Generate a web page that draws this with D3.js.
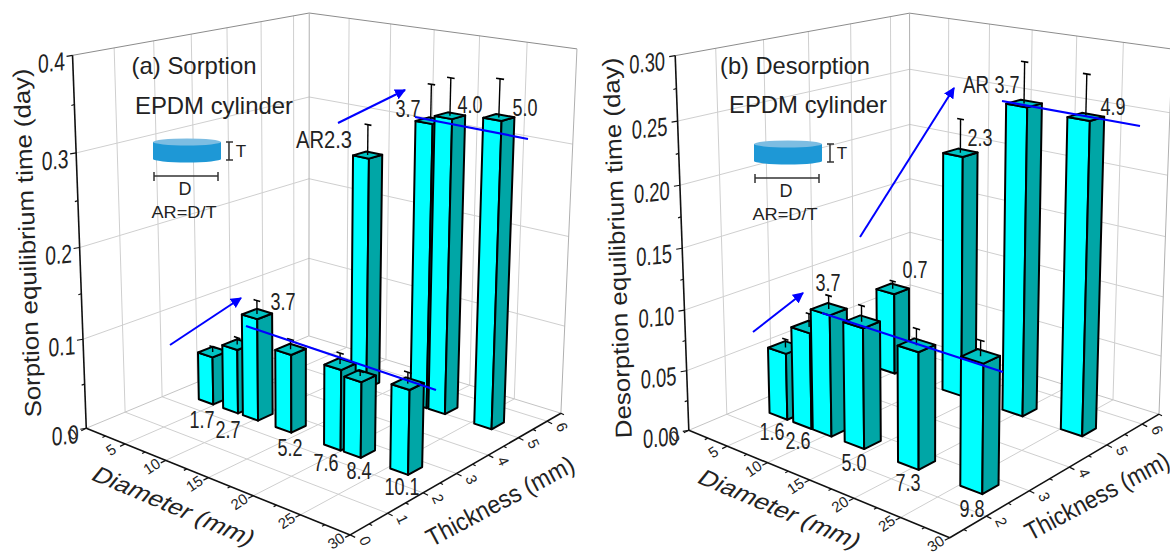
<!DOCTYPE html>
<html>
<head>
<meta charset="utf-8">
<script src="https://cdnjs.cloudflare.com/ajax/libs/d3/7.8.5/d3.min.js"></script>
<style>
  html, body { margin: 0; padding: 0; background: #fff; }
  text { font-family: "Liberation Sans", Arial, sans-serif; fill: #222; }
</style>
</head>
<body>
<div id="chart"></div>
<script>
// (a) sorption bars
var sorpAR = ["1.7", "2.7", "3.7", "5.2", "7.6", "8.4", "10.1", "2.3", "3.7", "4.0", "5.0"];
var sorpDiameter = [3.9, 7.0, 9.45, 13.4, 19.0, 21.2, 26.2, 12.2, 19.2, 21.25, 26.3];
var sorpThickness = [2.6, 2.6, 2.6, 2.6, 2.6, 2.6, 2.6, 5.2, 5.2, 5.2, 5.2];
var sorpTime = [0.055, 0.073, 0.115, 0.087, 0.088, 0.082, 0.09, 0.267, 0.318, 0.327, 0.334];
var sorpError = [0.006, 0.008, 0.015, 0.011, 0.012, 0.005, 0.012, 0.034, 0.039, 0.04, 0.04];

// (b) desorption bars
var desAR = ["1.6", "2.6", "3.7", "5.0", "7.3", "9.8", "0.7", "2.3", "3.7", "4.9"];
var desDiameter = [3.9, 6.95, 9.4, 13.3, 19.5, 26.3, 4.15, 12.5, 19.65, 26.2];
var desThickness = [2.67, 2.67, 2.67, 2.67, 2.67, 2.67, 5.2, 5.2, 5.2, 5.2];
var desTime = [0.056, 0.08, 0.1, 0.098, 0.093, 0.1, 0.072, 0.205, 0.255, 0.253];
var desError = [0.007, 0.011, 0.011, 0.013, 0.013, 0.012, 0.007, 0.028, 0.033, 0.033];

// tick labels
var diameterTicks = [0, 5, 10, 15, 20, 25, 30];
var sorpThicknessTicks = [0, 1, 2, 3, 4, 5, 6];
var desThicknessTicks = [2, 3, 4, 5, 6];
var sorpTimeTicks = [0, 0.1, 0.2, 0.3, 0.4];
var desTimeTicks = [0, 0.05, 0.1, 0.15, 0.2, 0.25, 0.3];

var panels = [
  {
    time: sorpTime, err: sorpError, dia: sorpDiameter, thick: sorpThickness, ar: sorpAR,
    tDomain: [0, 6.5], zDomain: [0, 0.4], tTicks: sorpThicknessTicks, zTicks: sorpTimeTicks,
    zFormat: d3.format(".1f"), zMinor: 0.05, barW: 1.85, barD: 0.42,
    corners: [
      [0, 0, 0, 86, 428], [1, 0, 0, 350, 535], [1, 1, 0, 561, 413], [0, 1, 0, 309, 336],
      [0, 0, 1, 72.6, 55], [1, 1, 1, 577, 49], [0, 1, 1, 309, 13], [0, 0, 0.5, 80, 248]
    ],
    zLabelOffset: [-21, 7], zLabelLen: 27,
    title: "(a) Sorption", titleAt: [194, 66], titleLen: 125, subAt: [214, 106], subLen: 158,
    inset: [153, 138], zTitle: "Sorption equilibrium time (day)", zTitleAt: [27, 243], zTitleLen: 349,
    dTitleAt: [174, 506], tTitleAt: [500, 501], tTitleLen: 164,
    labels: [[202, 420], [228, 430], [283, 302], [290, 448], [326, 463], [359, 471], [402, 487], [324, 140], [408, 109], [470, 105], [525, 108]],
    labelPrefix: { 7: "AR" },
    arrows: [[170, 345, 241, 298], [338, 123, 405, 90]],
    lines: [[246, 326, 436, 390], [415, 117, 528, 139]]
  },
  {
    time: desTime, err: desError, dia: desDiameter, thick: desThickness, ar: desAR,
    tDomain: [1.2, 6.5], zDomain: [0, 0.3], tTicks: desThicknessTicks, zTicks: desTimeTicks,
    zFormat: d3.format(".2f"), zMinor: 0.025, barW: 2.3, barD: 0.38,
    corners: [
      [0, 0, 0, 689, 430], [1, 0, 0, 950, 538], [1, 1, 0, 1159, 414], [0, 1, 0, 910, 337],
      [0, 0, 1, 675, 56], [1, 1, 1, 1172, 49], [0, 1, 1, 910, 13], [0, 0, 0.5, 682, 248]
    ],
    zLabelOffset: [-28, 7], zLabelLen: 36,
    title: "(b) Desorption", titleAt: [795, 66], titleLen: 150, subAt: [808, 105], subLen: 158,
    inset: [754, 140], zTitle: "Desorption equilibrium time (day)", zTitleAt: [617, 248], zTitleLen: 381,
    dTitleAt: [780, 509], tTitleAt: [1097, 496], tTitleLen: 160,
    labels: [[772, 432], [798, 441], [828, 283], [854, 463], [908, 483], [972, 509], [915, 270], [980, 138], [1007, 85], [1113, 107]],
    labelExtra: [["AR", 976, 85]],
    arrows: [[753, 332, 803, 293], [860, 237, 954, 88]],
    lines: [[822, 313, 1003, 372], [1002, 101, 1140, 126]]
  }
];

var svg = d3.select("#chart").append("svg").attr("width", 1170).attr("height", 552);

var defs = svg.append("defs");
defs.append("marker").attr("id", "head").attr("viewBox", "0 0 10 10")
  .attr("refX", 9).attr("refY", 5).attr("markerWidth", 5.5).attr("markerHeight", 5.5)
  .attr("orient", "auto").attr("markerUnits", "strokeWidth")
  .append("path").attr("d", "M0,0L10,5L0,10z").attr("fill", "#0000ff");

// least squares fit of a projective camera from known corners
function fitCamera(pts) {
  var n = 11, A = [], b = [];
  for (var i = 0; i < n; i++) { A.push(new Array(n).fill(0)); b.push(0); }
  function addRow(row, rhs) {
    for (var i = 0; i < n; i++) {
      for (var j = 0; j < n; j++) A[i][j] += row[i] * row[j];
      b[i] += row[i] * rhs;
    }
  }
  pts.forEach(function(p) {
    var u = p[0], v = p[1], w = p[2], X = p[3] / 1000, Y = p[4] / 1000;
    addRow([u, v, w, 1, 0, 0, 0, 0, -X * u, -X * v, -X * w], X);
    addRow([0, 0, 0, 0, u, v, w, 1, -Y * u, -Y * v, -Y * w], Y);
  });
  for (var c = 0; c < n; c++) {
    var piv = c;
    for (var r = c + 1; r < n; r++) if (Math.abs(A[r][c]) > Math.abs(A[piv][c])) piv = r;
    var t = A[c]; A[c] = A[piv]; A[piv] = t;
    t = b[c]; b[c] = b[piv]; b[piv] = t;
    for (r = 0; r < n; r++) {
      if (r === c) continue;
      var f = A[r][c] / A[c][c];
      for (var k = c; k < n; k++) A[r][k] -= f * A[c][k];
      b[r] -= f * b[c];
    }
  }
  var m = b.map(function(d, i) { return d / A[i][i]; });
  return function(u, v, w) {
    var h = m[8] * u + m[9] * v + m[10] * w + 1;
    return [1000 * (m[0] * u + m[1] * v + m[2] * w + m[3]) / h,
            1000 * (m[4] * u + m[5] * v + m[6] * w + m[7]) / h];
  };
}

function label(g, str, x, y, o) {
  o = o || {};
  var t = g.append("text")
    .attr("text-anchor", "middle").attr("dy", ".35em")
    .attr("font-size", o.size || 20)
    .attr("transform", "translate(" + x + "," + y + ") rotate(" + (o.rot || 0) + ") skewX(" + (o.skew || 0) + ")")
    .text(str);
  if (o.len) t.attr("textLength", o.len).attr("lengthAdjust", "spacingAndGlyphs");
  return t;
}

function drawPanel(p) {
  var g = svg.append("g");
  var cam = fitCamera(p.corners);

  var x = d3.scaleLinear().domain([0, 30]).range([0, 1]);
  var y = d3.scaleLinear().domain(p.tDomain).range([0, 1]);
  var z = d3.scaleLinear().domain(p.zDomain).range([0, 1]);
  var pt = function(d, t, v) { return cam(x(d), y(t), z(v)); };

  var tMin = p.tDomain[0], tMax = p.tDomain[1], zMax = p.zDomain[1];
  var line = d3.line();

  function seg(a, b, color, w) {
    g.append("path").attr("d", line([a, b])).attr("fill", "none")
      .attr("stroke", color).attr("stroke-width", w);
  }

  // grid on the floor and the two back walls
  var gridColor = "#cfcfcf";
  diameterTicks.slice(1, -1).forEach(function(d) {
    seg(pt(d, tMin, 0), pt(d, tMax, 0), gridColor, 1);
    seg(pt(d, tMax, 0), pt(d, tMax, zMax), gridColor, 1);
  });
  p.tTicks.filter(function(t) { return t > tMin; }).forEach(function(t) {
    seg(pt(0, t, 0), pt(30, t, 0), gridColor, 1);
    seg(pt(0, t, 0), pt(0, t, zMax), gridColor, 1);
  });
  p.zTicks.slice(1, -1).forEach(function(v) {
    seg(pt(0, tMin, v), pt(0, tMax, v), gridColor, 1);
    seg(pt(0, tMax, v), pt(30, tMax, v), gridColor, 1);
  });

  // wall outline
  var edge = "#8c8c8c";
  seg(pt(0, tMin, zMax), pt(0, tMax, zMax), edge, 1);
  seg(pt(0, tMax, zMax), pt(30, tMax, zMax), edge, 1);
  seg(pt(0, tMax, 0), pt(0, tMax, zMax), "#b0b0b0", 1);
  seg(pt(30, tMax, 0), pt(30, tMax, zMax), "#b0b0b0", 1);
  seg(pt(0, tMax, 0), pt(30, tMax, 0), "#c4c4c4", 1);
  seg(pt(0, tMin, 0), pt(0, tMax, 0), "#c4c4c4", 1);

  // axes
  seg(pt(0, tMin, 0), pt(0, tMin, zMax), "#111", 1.6);
  seg(pt(0, tMin, 0), pt(30, tMin, 0), "#111", 1.6);
  seg(pt(30, tMin, 0), pt(30, tMax, 0), "#111", 1.6);

  d3.range(0, zMax + 1e-6, p.zMinor).forEach(function(v, i) {
    var a = pt(0, tMin, v);
    seg(a, [a[0] - (i % 2 ? 3 : 6), a[1] + 1], "#111", 1.2);
  });
  d3.range(0, 30.01, 2.5).forEach(function(d, i) {
    var a = pt(d, tMin, 0);
    seg(a, [a[0] - (i % 2 ? 3 : 5), a[1] + (i % 2 ? 1.5 : 2.5)], "#111", 1.2);
  });
  d3.range(Math.ceil(tMin * 2) / 2, tMax + 0.01, 0.5).forEach(function(t) {
    var a = pt(30, t, 0), major = t % 1 === 0;
    seg(a, [a[0] + (major ? 5 : 3), a[1] + (major ? 2.5 : 1.5)], "#111", 1.2);
  });

  // tick labels
  p.zTicks.forEach(function(v) {
    var a = pt(0, tMin, v);
    label(g, p.zFormat(v), a[0] + p.zLabelOffset[0], a[1] + p.zLabelOffset[1],
      { size: 26, rot: -6, skew: -6, len: p.zLabelLen });
  });
  diameterTicks.forEach(function(d) {
    var a = pt(d, tMin, 0);
    label(g, d, a[0] - 14, a[1] + 6, { size: 15, rot: -34 });
  });
  p.tTicks.forEach(function(t) {
    var a = pt(30, t, 0);
    label(g, t, a[0] + 15, a[1] + 6, { size: 15, rot: 65 });
  });

  // axis titles
  label(g, p.zTitle, p.zTitleAt[0], p.zTitleAt[1], { size: 23, rot: -92, len: p.zTitleLen });
  label(g, "Diameter (mm)", p.dTitleAt[0], p.dTitleAt[1], { size: 23, rot: 23, skew: -16, len: 172 });
  label(g, "Thickness (mm)", p.tTitleAt[0], p.tTitleAt[1], { size: 25, rot: -28, len: p.tTitleLen });

  // bars, back to front
  var order = d3.range(p.time.length).sort(function(a, b) {
    return d3.descending(p.thick[a], p.thick[b]) || d3.ascending(p.dia[a], p.dia[b]);
  });
  var closed = d3.line().curve(d3.curveLinearClosed);
  order.forEach(function(i) {
    var d0 = p.dia[i] - p.barW / 2, d1 = p.dia[i] + p.barW / 2;
    var t0 = p.thick[i] - p.barD / 2, t1 = p.thick[i] + p.barD / 2;
    var v = p.time[i], bar = g.append("g");
    var top = v + p.err[i];

    bar.append("path").attr("d", closed([pt(d0, t0, 0), pt(d1, t0, 0), pt(d1, t0, v), pt(d0, t0, v)])).attr("fill", "#00ffff");
    bar.append("path").attr("d", closed([pt(d1, t0, 0), pt(d1, t1, 0), pt(d1, t1, v), pt(d1, t0, v)])).attr("fill", "#00a6a6");
    bar.append("path").attr("d", closed([pt(d0, t0, v), pt(d1, t0, v), pt(d1, t1, v), pt(d0, t1, v)])).attr("fill", "#00c4c4");
    bar.selectAll("path").attr("stroke", "#000").attr("stroke-width", 2).attr("stroke-linejoin", "round");

    bar.append("path").attr("d", line([pt(p.dia[i], p.thick[i], v), pt(p.dia[i], p.thick[i], top)]))
      .attr("stroke", "#000").attr("stroke-width", 1.4).attr("fill", "none");
    bar.append("path").attr("d", line([pt(p.dia[i] - 0.4, p.thick[i], top), pt(p.dia[i] + 0.4, p.thick[i], top)]))
      .attr("stroke", "#000").attr("stroke-width", 1.6).attr("fill", "none");
  });

  // aspect ratio labels
  p.ar.forEach(function(s, i) {
    var prefix = (p.labelPrefix && p.labelPrefix[i]) || "";
    label(g, prefix + s, p.labels[i][0], p.labels[i][1], { size: 23, len: (prefix ? 56 : s.length > 3 ? 35 : 25) });
  });
  (p.labelExtra || []).forEach(function(e) {
    label(g, e[0], e[1], e[2], { size: 23, len: 26 });
  });

  // blue guides
  p.arrows.forEach(function(a) {
    g.append("line").attr("x1", a[0]).attr("y1", a[1]).attr("x2", a[2]).attr("y2", a[3])
      .attr("stroke", "#0000ff").attr("stroke-width", 2).attr("marker-end", "url(#head)");
  });
  p.lines.forEach(function(a) {
    g.append("line").attr("x1", a[0]).attr("y1", a[1]).attr("x2", a[2]).attr("y2", a[3])
      .attr("stroke", "#0000ff").attr("stroke-width", 2.2);
  });

  // titles
  label(g, p.title, p.titleAt[0], p.titleAt[1], { size: 24, len: p.titleLen });
  label(g, "EPDM cylinder", p.subAt[0], p.subAt[1], { size: 24, len: p.subLen });

  // small cylinder sketch
  var ix = p.inset[0], iy = p.inset[1];
  var sk = g.append("g").attr("transform", "translate(" + ix + "," + iy + ")");
  sk.append("path").attr("d", "M0,4V21A34,3.5 0 0 0 68,21V4z").attr("fill", "#1e98d6");
  sk.append("ellipse").attr("cx", 34).attr("cy", 4).attr("rx", 34).attr("ry", 3.5).attr("fill", "#7dbde2");
  var ink = "#333";
  [[76, 4, 76, 22], [73, 4, 80, 4], [73, 22, 80, 22], [1, 38, 65, 38], [1, 34, 1, 43], [65, 34, 65, 43]].forEach(function(c) {
    sk.append("line").attr("x1", c[0]).attr("y1", c[1]).attr("x2", c[2]).attr("y2", c[3])
      .attr("stroke", ink).attr("stroke-width", 1.5);
  });
  label(sk, "T", 88, 13, { size: 17 });
  label(sk, "D", 32, 51, { size: 18 });
  label(sk, "AR=D/T", 31, 74, { size: 17, len: 65 });
}

panels.forEach(drawPanel);
</script>
</body>
</html>
